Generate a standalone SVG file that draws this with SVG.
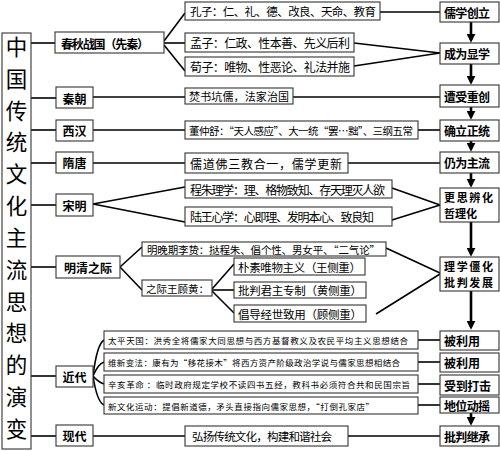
<svg xmlns="http://www.w3.org/2000/svg" width="500" height="451" viewBox="0 0 500 451">
<style>
text{font-family:"Noto Sans CJK SC","Liberation Sans",sans-serif;fill:#000;dominant-baseline:central}
.box{fill:#fff;stroke:#333;stroke-width:1.1}
.era{font-size:12px;font-weight:bold;text-anchor:middle}
.res{font-size:12px;font-weight:bold}
.res2{font-size:11px;font-weight:bold}
.c{font-size:11.5px}
.s{font-size:8.5px}
.ttl{font-size:21.5px;text-anchor:middle}
.ln{stroke:#000;stroke-width:1.6;fill:none}
.ar{stroke:#000;stroke-width:2.6;fill:none;marker-end:url(#ah)}
</style>
<defs>
<marker id="ah" viewBox="0 0 10 10" refX="7" refY="5" markerWidth="9" markerHeight="9" markerUnits="userSpaceOnUse" orient="auto"><path d="M0,0 L10,5 L0,10 z" fill="#000"/></marker>
</defs>
<rect width="500" height="451" fill="#fff"/>

<g id="connectors">
<line class="ln" x1="31" y1="43" x2="55" y2="43"/>
<line class="ln" x1="31" y1="98" x2="56" y2="98"/>
<line class="ln" x1="31" y1="130" x2="56" y2="130"/>
<line class="ln" x1="31" y1="163" x2="56" y2="163"/>
<line class="ln" x1="31" y1="205" x2="56" y2="205"/>
<line class="ln" x1="31" y1="267" x2="56" y2="267"/>
<line class="ln" x1="31" y1="376" x2="56" y2="376"/>
<line class="ln" x1="31" y1="436" x2="56" y2="436"/>
<line class="ln" x1="164" y1="41" x2="185" y2="13"/>
<line class="ln" x1="164" y1="43" x2="185" y2="43"/>
<line class="ln" x1="164" y1="45" x2="185" y2="71"/>
<line class="ln" x1="380" y1="12" x2="440" y2="12"/>
<line class="ln" x1="354" y1="43" x2="440" y2="53"/>
<line class="ln" x1="354" y1="66" x2="440" y2="53"/>
<line class="ln" x1="93" y1="97" x2="185" y2="97"/>
<line class="ln" x1="293" y1="97" x2="440" y2="97"/>
<line class="ln" x1="93" y1="130" x2="185" y2="130"/>
<line class="ln" x1="418" y1="130" x2="440" y2="130"/>
<line class="ln" x1="93" y1="163" x2="185" y2="163"/>
<line class="ln" x1="348" y1="163" x2="440" y2="163"/>
<line class="ln" x1="93" y1="204" x2="185" y2="187"/>
<line class="ln" x1="93" y1="204" x2="185" y2="222"/>
<line class="ln" x1="392" y1="188" x2="440" y2="205"/>
<line class="ln" x1="392" y1="220" x2="440" y2="205"/>
<line class="ln" x1="120" y1="267" x2="142" y2="247"/>
<line class="ln" x1="120" y1="267" x2="142" y2="290"/>
<line class="ln" x1="212" y1="289" x2="234" y2="264"/>
<line class="ln" x1="212" y1="290" x2="234" y2="290"/>
<line class="ln" x1="212" y1="291" x2="234" y2="313"/>
<line class="ln" x1="386" y1="248" x2="440" y2="273"/>
<line class="ln" x1="376" y1="314" x2="440" y2="274"/>
<path class="ln" d="M93,376 Q97,344 104,340"/>
<path class="ln" d="M93,376 Q98,364 104,362"/>
<path class="ln" d="M93,376 Q98,382 104,384"/>
<path class="ln" d="M93,376 Q97,402 104,405"/>
<line class="ln" x1="418" y1="340" x2="440" y2="340"/>
<line class="ln" x1="418" y1="362" x2="440" y2="362"/>
<line class="ln" x1="418" y1="384" x2="440" y2="384"/>
<line class="ln" x1="418" y1="405" x2="440" y2="405"/>
<line class="ln" x1="93" y1="436" x2="185" y2="436"/>
<line class="ln" x1="348" y1="436" x2="440" y2="436"/>
<line class="ar" x1="471" y1="22" x2="471" y2="40"/>
<line class="ar" x1="471" y1="64" x2="471" y2="82"/>
<line class="ar" x1="471" y1="107" x2="471" y2="117"/>
<line class="ar" x1="471" y1="141" x2="471" y2="149"/>
<line class="ar" x1="471" y1="173" x2="471" y2="185"/>
<line class="ar" x1="471" y1="222" x2="471" y2="254"/>
<line class="ar" x1="471" y1="291" x2="471" y2="327"/>
<line class="ar" x1="471" y1="413" x2="471" y2="423"/>
</g>

<g id="title">
<rect class="box" x="2" y="33" width="29" height="416"/>
<text class="ttl" x="16.5" y="45">中</text>
<text class="ttl" x="16.5" y="77">国</text>
<text class="ttl" x="16.5" y="109">传</text>
<text class="ttl" x="16.5" y="140">统</text>
<text class="ttl" x="16.5" y="172">文</text>
<text class="ttl" x="16.5" y="204">化</text>
<text class="ttl" x="16.5" y="236">主</text>
<text class="ttl" x="16.5" y="268">流</text>
<text class="ttl" x="16.5" y="300">思</text>
<text class="ttl" x="16.5" y="331">想</text>
<text class="ttl" x="16.5" y="363">的</text>
<text class="ttl" x="16.5" y="395">演</text>
<text class="ttl" x="16.5" y="427">变</text>
</g>

<g id="era-chunqiu"><rect class="box" x="55" y="32" width="109" height="21"/><text class="era" x="105" y="43" textLength="88">春秋战国（先秦）</text></g>
<g id="era-qin"><rect class="box" x="56" y="87" width="37" height="21"/><text class="era" x="74.5" y="98">秦朝</text></g>
<g id="era-xihan"><rect class="box" x="56" y="120" width="37" height="21"/><text class="era" x="74.5" y="130.5">西汉</text></g>
<g id="era-suitang"><rect class="box" x="56" y="152" width="37" height="21"/><text class="era" x="74.5" y="162.5">隋唐</text></g>
<g id="era-songming"><rect class="box" x="56" y="194" width="37" height="22"/><text class="era" x="74.5" y="205">宋明</text></g>
<g id="era-mingqing"><rect class="box" x="56" y="256" width="64" height="22"/><text class="era" x="88" y="267">明清之际</text></g>
<g id="era-jindai"><rect class="box" x="56" y="366" width="37" height="21"/><text class="era" x="74.5" y="376.5">近代</text></g>
<g id="era-xiandai"><rect class="box" x="56" y="425" width="37" height="21"/><text class="era" x="74.5" y="435.5">现代</text></g>

<g id="c-kongzi"><rect class="box" x="185" y="2" width="195" height="18"/><text class="c" x="190" y="11" textLength="186">孔子：仁、礼、德、改良、天命、教育</text></g>
<g id="c-mengzi"><rect class="box" x="185" y="33" width="169" height="19"/><text class="c" x="190" y="42.5" textLength="160" style="font-size:12px">孟子：仁政、性本善、先义后利</text></g>
<g id="c-xunzi"><rect class="box" x="185" y="57" width="169" height="19"/><text class="c" x="190" y="66.5" textLength="160" style="font-size:12px">荀子：唯物、性恶论、礼法并施</text></g>
<g id="c-qin"><rect class="box" x="185" y="88" width="108" height="16"/><text class="c" x="189" y="96" textLength="100" style="font-size:11px">焚书坑儒，法家治国</text></g>
<g id="c-dong"><rect class="box" x="185" y="121" width="233" height="18"/><text class="c" x="189" y="130" textLength="224" style="font-size:10.5px">董仲舒：“天人感应”、大一统“罢…黜”、三纲五常</text></g>
<g id="c-rudaofo"><rect class="box" x="185" y="153" width="163" height="20"/><text class="c" x="190" y="163" textLength="152" style="font-size:12px">儒道佛三教合一，儒学更新</text></g>
<g id="c-chengzhu"><rect class="box" x="185" y="180" width="207" height="18"/><text class="c" x="190" y="189" textLength="195" style="font-size:12px">程朱理学：理、格物致知、存天理灭人欲</text></g>
<g id="c-luwang"><rect class="box" x="185" y="207" width="207" height="19"/><text class="c" x="190" y="216.5" textLength="184" style="font-size:12px">陆王心学：心即理、发明本心、致良知</text></g>
<g id="c-lizhi"><rect class="box" x="142" y="242" width="244" height="14"/><text class="c" x="147" y="249" textLength="233" style="font-size:10.5px">明晚期李贽：挞程朱、倡个性、男女平、“二气论”</text></g>
<g id="c-wgh"><rect class="box" x="142" y="280" width="70" height="16"/><text class="c" x="146" y="288" textLength="63" style="font-size:10.5px">之际王顾黄：</text></g>
<g id="c-wang"><rect class="box" x="234" y="258" width="131" height="17"/><text class="c" x="238" y="266.5" textLength="123">朴素唯物主义（王侧重）</text></g>
<g id="c-huang"><rect class="box" x="234" y="282" width="132" height="16"/><text class="c" x="238" y="290" textLength="124">批判君主专制（黄侧重）</text></g>
<g id="c-gu"><rect class="box" x="234" y="305" width="132" height="17"/><text class="c" x="238" y="313.5" textLength="124">倡导经世致用（顾侧重）</text></g>
<g id="c-taiping"><rect class="box" x="104" y="331" width="314" height="18"/><text class="s" x="108" y="340" textLength="300">太平天国：洪秀全将儒家大同思想与西方基督教义及农民平均主义思想结合</text></g>
<g id="c-weixin"><rect class="box" x="104" y="353" width="314" height="18"/><text class="s" x="108" y="362" textLength="292">维新变法：康有为“移花接木”将西方资产阶级政治学说与儒家思想相结合</text></g>
<g id="c-xinhai"><rect class="box" x="104" y="375" width="314" height="18"/><text class="s" x="108" y="384" textLength="302">辛亥革命 ：临时政府规定学校不读四书五经，教科书必须符合共和民国宗旨</text></g>
<g id="c-xinwenhua"><rect class="box" x="104" y="397" width="314" height="17"/><text class="s" x="108" y="405.5" textLength="266">新文化运动：提倡新道德，矛头直接指向儒家思想，“打倒孔家店”</text></g>
<g id="c-hongyang"><rect class="box" x="185" y="426" width="163" height="20"/><text class="c" x="192" y="436" textLength="140">弘扬传统文化，构建和谐社会</text></g>

<g id="r1"><rect class="box" x="440" y="2" width="59" height="20"/><text class="res" x="444" y="12" textLength="46">儒学创立</text></g>
<g id="r2"><rect class="box" x="440" y="43" width="59" height="21"/><text class="res" x="444" y="53.5" textLength="46">成为显学</text></g>
<g id="r3"><rect class="box" x="440" y="85" width="59" height="22"/><text class="res" x="444" y="96" textLength="46">遭受重创</text></g>
<g id="r4"><rect class="box" x="440" y="120" width="59" height="21"/><text class="res" x="444" y="130.5" textLength="46">确立正统</text></g>
<g id="r5"><rect class="box" x="440" y="152" width="59" height="21"/><text class="res" x="444" y="162.5" textLength="46">仍为主流</text></g>
<g id="r6"><rect class="box" x="440" y="188" width="59" height="34"/><text class="res2" x="444" y="197" textLength="49">更思辨化</text><text class="res2" x="444" y="213">哲理化</text></g>
<g id="r7"><rect class="box" x="440" y="257" width="59" height="34"/><text class="res2" x="444" y="266" textLength="49">理学僵化</text><text class="res2" x="444" y="282" textLength="49">批判发展</text></g>
<g id="r8"><rect class="box" x="440" y="331" width="59" height="19"/><text class="res" x="444" y="340.5">被利用</text></g>
<g id="r9"><rect class="box" x="440" y="353" width="59" height="19"/><text class="res" x="444" y="362.5">被利用</text></g>
<g id="r10"><rect class="box" x="440" y="375" width="59" height="20"/><text class="res" x="444" y="385" textLength="47">受到打击</text></g>
<g id="r11"><rect class="box" x="440" y="397" width="59" height="16"/><text class="res" x="444" y="405" textLength="46">地位动摇</text></g>
<g id="r12"><rect class="box" x="440" y="426" width="59" height="20"/><text class="res" x="444" y="436" textLength="46">批判继承</text></g>
</svg>
